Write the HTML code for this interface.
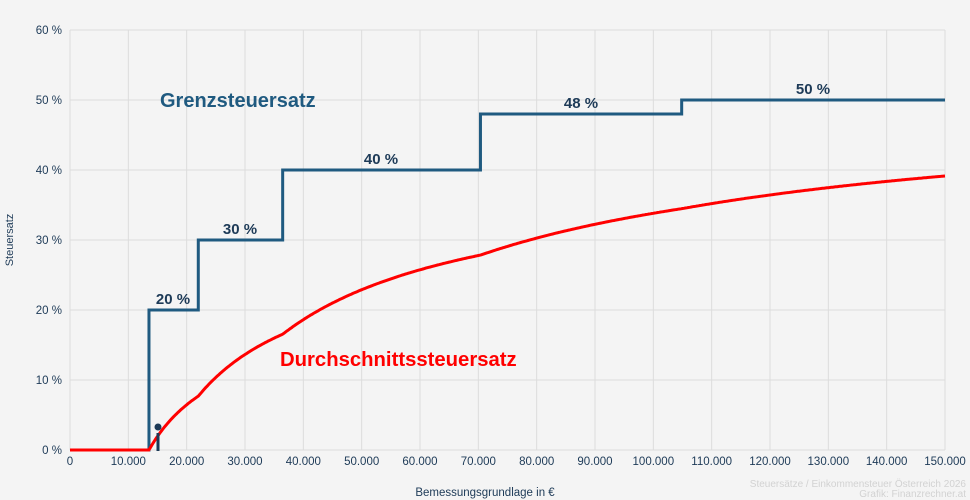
<!DOCTYPE html>
<html><head><meta charset="utf-8"><style>
html,body{margin:0;padding:0;background:#f4f4f4;}
svg{display:block;font-family:"Liberation Sans",sans-serif;}
</style></head><body>
<svg id="s" width="970" height="500" xmlns="http://www.w3.org/2000/svg">
<rect width="970" height="500" fill="#f4f4f4"/>
<g id="grid" stroke="#dcdcdc" stroke-width="1"></g>
<g id="lab" font-size="11.5" fill="#1d3a57"></g>
<text x="10" y="240" font-size="11" fill="#1d3a57" transform="rotate(-90 10 240)" text-anchor="middle" dominant-baseline="middle">Steuersatz</text>
<text x="485" y="496" font-size="11.5" fill="#1d3a57" text-anchor="middle">Bemessungsgrundlage in €</text>
<text x="966" y="487" font-size="10" fill="#d2d2d2" text-anchor="end">Steuersätze / Einkommensteuer Österreich 2026</text>
<text x="966" y="497" font-size="10" fill="#d2d2d2" text-anchor="end">Grafik: Finanzrechner.at</text>
<path id="step" fill="none" stroke="#1f5a80" stroke-width="3"/>
<path id="avg" fill="none" stroke="#ff0000" stroke-width="3"/>
<line x1="158" y1="433" x2="158" y2="451" stroke="#1d3a57" stroke-width="3"/>
<circle cx="158" cy="427" r="3.5" fill="#1d3a57"/>
<g font-size="15" font-weight="bold" fill="#1d3a57" text-anchor="middle">
<text x="173" y="304">20 %</text><text x="240" y="234">30 %</text>
<text x="381" y="164">40 %</text><text x="581" y="108">48 %</text><text x="813" y="94">50 %</text>
</g>
<text x="160" y="107" font-size="20" font-weight="bold" fill="#1f5a80">Grenzsteuersatz</text>
<text x="280" y="366" font-size="20.3" font-weight="bold" fill="#ff0000">Durchschnittssteuersatz</text>
</svg>
<script>
const X=v=>70+v/150000*875, Y=p=>450-p*7;
const g=document.getElementById('grid'),l=document.getElementById('lab');
let h='',t='';
for(let i=0;i<=15;i++){const x=X(i*10000);h+=`<line x1="${x}" y1="30" x2="${x}" y2="450"/>`;
t+=`<text x="${x}" y="465" text-anchor="middle">${i?(i*10)+'.000':'0'}</text>`;}
for(let j=0;j<=6;j++){const y=Y(j*10);h+=`<line x1="70" y1="${y}" x2="945" y2="${y}"/>`;
t+=`<text x="62" y="${y+4}" text-anchor="end">${j*10} %</text>`;}
g.innerHTML=h;l.innerHTML=t;
const b=[[13539,.2],[21992,.3],[36458,.4],[70365,.48],[104859,.5],[1e9,.5]];
let s=`M${X(0)},${Y(0)} L${X(13539)},${Y(0)}`;
const r=[0,20,30,40,48,50];
for(let i=0;i<5;i++){s+=` L${X(b[i][0])},${Y(r[i+1])} L${X(Math.min(b[i+1][0],150000))},${Y(r[i+1])}`;}
document.getElementById('step').setAttribute('d',s);
function tax(v){let tx=0;for(let i=0;i<5;i++){const lo=b[i][0],hi=b[i+1][0];if(v>lo)tx+=(Math.min(v,hi)-lo)*b[i][1];}return tx;}
let a=`M${X(0)},${Y(0)}`;
for(let v=250;v<=150000;v+=250){a+=` L${X(v).toFixed(1)},${Y(tax(v)/v*100).toFixed(1)}`;}
document.getElementById('avg').setAttribute('d',a);
</script>
</body></html>
